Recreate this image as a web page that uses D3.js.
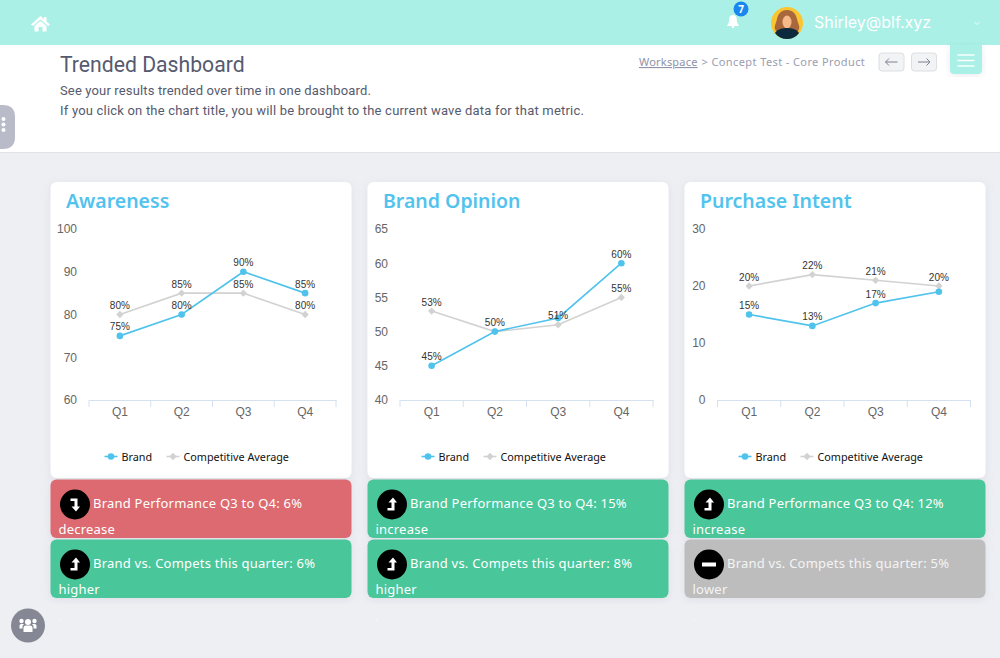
<!DOCTYPE html>
<html>
<head>
<meta charset="utf-8">
<title>Trended Dashboard</title>
<script src="https://cdn.jsdelivr.net/npm/d3@7/dist/d3.min.js"></script>
<style>
html, body { margin: 0; padding: 0; background: #eeeff3; overflow: hidden; }
svg { display: block; }
</style>
</head>
<body>
<div id="chart"></div>
<script>
var quarters = ["Q1", "Q2", "Q3", "Q4"];

var awarenessBrand = [75, 80, 90, 85];
var awarenessComp = [80, 85, 85, 80];
var awarenessBrandLabels = ["75%", "80%", "90%", "85%"];
var awarenessCompLabels = ["80%", "85%", "85%", "80%"];
var awarenessTicks = [60, 70, 80, 90, 100];

var opinionBrand = [45, 50, 52, 60];
var opinionComp = [53, 50, 51, 55];
var opinionBrandLabels = ["45%", null, null, "60%"];
var opinionCompLabels = ["53%", "50%", "51%", "55%"];
var opinionTicks = [40, 45, 50, 55, 60, 65];

var intentBrand = [15, 13, 17, 19];
var intentComp = [20, 22, 21, 20];
var intentBrandLabels = ["15%", "13%", "17%", null];
var intentCompLabels = ["20%", "22%", "21%", "20%"];
var intentTicks = [0, 10, 20, 30];

var seriesNames = ["Brand", "Competitive Average"];
var cardTitles = ["Awareness", "Brand Opinion", "Purchase Intent"];

var performanceTexts = ["Brand Performance Q3 to Q4: 6%", "Brand Performance Q3 to Q4: 15%", "Brand Performance Q3 to Q4: 12%"];
var performanceWords = ["decrease", "increase", "increase"];
var performanceKinds = ["down", "up", "up"];
var competeTexts = ["Brand vs. Compets this quarter: 6%", "Brand vs. Compets this quarter: 8%", "Brand vs. Compets this quarter: 5%"];
var competeWords = ["higher", "higher", "lower"];
var competeKinds = ["up", "up", "flat"];

var width = 1000;
var height = 658;
var blue = "#4fc3ec";
var grey = "#d2d2d2";
var kindColors = { down: "#dd6b70", up: "#4ac69a", flat: "#bdbdbd" };
var uiFont = "'Noto Sans', sans-serif";
var chartFont = "'Liberation Sans', Arial, sans-serif";

var svg = d3.select("#chart").append("svg")
    .attr("width", width)
    .attr("height", height);

var defs = svg.append("defs");
var shadow = defs.append("filter").attr("id", "shadow")
    .attr("x", "-10%").attr("y", "-10%").attr("width", "120%").attr("height", "120%");
shadow.append("feDropShadow")
    .attr("dx", 0).attr("dy", 2).attr("stdDeviation", 4)
    .attr("flood-color", "#8a8fa8").attr("flood-opacity", 0.16);

function text(parent, x, y, str, size, color, font) {
    return parent.append("text")
        .attr("x", x)
        .attr("y", y)
        .attr("fill", color)
        .style("font-family", font || uiFont)
        .style("font-size", size + "px")
        .text(str);
}

drawPage();

var cards = [
    { left: 50.5, cardW: 301, axisL: 89, axisR: 336, domain: [60, 100], ticks: awarenessTicks,
      brand: awarenessBrand, comp: awarenessComp, brandLabels: awarenessBrandLabels, compLabels: awarenessCompLabels },
    { left: 367.5, cardW: 301, axisL: 400, axisR: 653, domain: [40, 65], ticks: opinionTicks,
      brand: opinionBrand, comp: opinionComp, brandLabels: opinionBrandLabels, compLabels: opinionCompLabels },
    { left: 684.5, cardW: 301, axisL: 717.5, axisR: 970.5, domain: [0, 30], ticks: intentTicks,
      brand: intentBrand, comp: intentComp, brandLabels: intentBrandLabels, compLabels: intentCompLabels }
];

cards.forEach(function(card, i) {
    drawCard(card, cardTitles[i]);
    drawAlert(card.left, 479.5, performanceTexts[i], performanceWords[i], performanceKinds[i]);
    drawAlert(card.left, 539.5, competeTexts[i], competeWords[i], competeKinds[i]);
    text(svg, card.left + 8, 620, ".", 9, "#ffffff");
});

function drawCard(card, title) {
    var g = svg.append("g");

    g.append("rect")
        .attr("x", card.left).attr("y", 182)
        .attr("width", card.cardW).attr("height", 296)
        .attr("rx", 6)
        .attr("fill", "#ffffff")
        .attr("filter", "url(#shadow)");

    text(g, card.left + 15.5, 208, title, 19.5, "#52c3ee")
        .style("font-weight", 600);

    var x = d3.scaleBand().domain(quarters).range([card.axisL, card.axisR]);
    var y = d3.scaleLinear().domain(card.domain).range([400, 229]);

    // y axis: labels only
    var yAxis = g.append("g")
        .attr("transform", "translate(" + (card.axisL - 12) + ",0)")
        .call(d3.axisLeft(y).tickValues(card.ticks).tickSize(0).tickPadding(0));
    yAxis.select(".domain").remove();
    yAxis.selectAll("text")
        .attr("fill", "#666666")
        .style("font-family", chartFont)
        .style("font-size", "12px");

    // x axis: labels in the band centres, ticks on the band edges
    var xAxis = g.append("g")
        .attr("transform", "translate(0,400)")
        .call(d3.axisBottom(x).tickSize(0).tickPadding(7));
    xAxis.select(".domain")
        .attr("stroke", "#d5e1ef")
        .attr("stroke-width", 1);
    xAxis.selectAll("text")
        .attr("fill", "#666666")
        .style("font-family", chartFont)
        .style("font-size", "12px");

    var edges = quarters.map(function(q) { return x(q); }).concat([card.axisR]);
    g.selectAll(".edge")
        .data(edges)
        .enter().append("line")
        .attr("class", "edge")
        .attr("x1", function(d) { return d; })
        .attr("x2", function(d) { return d; })
        .attr("y1", 400)
        .attr("y2", 407)
        .attr("stroke", "#d5e1ef")
        .attr("stroke-width", 1);

    var line = d3.line()
        .x(function(d, i) { return x(quarters[i]) + x.bandwidth() / 2; })
        .y(function(d) { return y(d); });

    g.append("path")
        .attr("d", line(card.comp))
        .attr("fill", "none")
        .attr("stroke", grey)
        .attr("stroke-width", 1.6);

    g.selectAll(".comp-point")
        .data(card.comp)
        .enter().append("path")
        .attr("class", "comp-point")
        .attr("d", d3.symbol().type(d3.symbolDiamond2).size(34))
        .attr("transform", function(d, i) {
            return "translate(" + (x(quarters[i]) + x.bandwidth() / 2) + "," + y(d) + ")";
        })
        .attr("fill", grey);

    g.append("path")
        .attr("d", line(card.brand))
        .attr("fill", "none")
        .attr("stroke", blue)
        .attr("stroke-width", 1.6);

    g.selectAll(".brand-point")
        .data(card.brand)
        .enter().append("circle")
        .attr("class", "brand-point")
        .attr("cx", function(d, i) { return x(quarters[i]) + x.bandwidth() / 2; })
        .attr("cy", function(d) { return y(d); })
        .attr("r", 3.3)
        .attr("fill", blue);

    [[card.comp, card.compLabels], [card.brand, card.brandLabels]].forEach(function(pair) {
        pair[0].forEach(function(d, i) {
            if (pair[1][i] === null) return;
            text(g, x(quarters[i]) + x.bandwidth() / 2, y(d) - 5.5, pair[1][i], 10, "#333333", chartFont)
                .attr("text-anchor", "middle");
        });
    });

    // legend
    var lx = card.left + 54;
    var ly = 456.5;
    g.append("line").attr("x1", lx).attr("x2", lx + 13).attr("y1", ly).attr("y2", ly)
        .attr("stroke", blue).attr("stroke-width", 1.6);
    g.append("circle").attr("cx", lx + 6.5).attr("cy", ly).attr("r", 3.3).attr("fill", blue);
    text(g, lx + 17, ly + 4, seriesNames[0], 10.8, "#111111");
    g.append("line").attr("x1", lx + 62).attr("x2", lx + 75).attr("y1", ly).attr("y2", ly)
        .attr("stroke", grey).attr("stroke-width", 1.6);
    g.append("path")
        .attr("d", d3.symbol().type(d3.symbolDiamond2).size(34))
        .attr("transform", "translate(" + (lx + 68.5) + "," + ly + ")")
        .attr("fill", grey);
    text(g, lx + 79, ly + 4, seriesNames[1], 10.8, "#111111");
}

function drawAlert(left, top, line1, line2, kind) {
    var g = svg.append("g");
    var fg = kind === "flat" ? "#f4f4f4" : "#ffffff";

    g.append("rect")
        .attr("x", left).attr("y", top)
        .attr("width", 301).attr("height", 58.5)
        .attr("rx", 6)
        .attr("fill", kindColors[kind])
        .attr("filter", "url(#shadow)");

    text(g, left + 42.5, top + 28.5, line1, 13, fg).style("letter-spacing", "0.22px");
    text(g, left + 8, top + 54, line2, 13, fg).style("letter-spacing", "0.22px");

    var icon = g.append("g")
        .attr("transform", "translate(" + (left + 24.5) + "," + (top + 25) + ")");
    icon.append("circle").attr("r", 15).attr("fill", "#000000");
    if (kind === "up") {
        icon.append("path")
            .attr("d", "M-4.5,3.5 H-0.5 V-2 H-3.5 L1,-7 L5,-2 H2.5 V6 H-4.5 Z")
            .attr("fill", "#ffffff");
    } else if (kind === "down") {
        icon.append("path")
            .attr("d", "M-4.5,-6 H2.5 V2 H5 L1,7 L-3.5,2 H-0.5 V-3.5 H-4.5 Z")
            .attr("fill", "#ffffff");
    } else {
        icon.append("rect")
            .attr("x", -7).attr("y", -2).attr("width", 14).attr("height", 4)
            .attr("fill", "#ffffff");
    }
}

function drawPage() {
    // white title panel
    svg.append("rect").attr("x", 0).attr("y", 45).attr("width", width).attr("height", 107).attr("fill", "#ffffff");
    svg.append("line").attr("x1", 0).attr("x2", width).attr("y1", 152.5).attr("y2", 152.5)
        .attr("stroke", "#e2e3e8");

    // top bar
    svg.append("rect").attr("width", width).attr("height", 45).attr("fill", "#aaf0e6");

    svg.append("path")
        .attr("d", "M40.5,16 L31,24.5 L33,26 L40.5,19.5 L48,26 L50,24.5 L46.5,21.5 V17 H44 V19 Z M34.5,26 L40.5,21 L46.5,26 V31.5 H42.5 V27 H38.5 V31.5 H34.5 Z")
        .attr("fill", "#ffffff");

    // bell and badge
    svg.append("path")
        .attr("d", "M733,15 C736,15 736.8,17.5 736.8,20 C736.8,23 738.3,24.5 739,26 H727 C727.7,24.5 729.2,23 729.2,20 C729.2,17.5 730,15 733,15 Z")
        .attr("fill", "#ffffff");
    svg.append("circle").attr("cx", 733).attr("cy", 27).attr("r", 1.3).attr("fill", "#ffffff");
    svg.append("circle").attr("cx", 741).attr("cy", 9).attr("r", 7.5).attr("fill", "#1a86ee");
    text(svg, 741, 12.5, "7", 10, "#ffffff").attr("text-anchor", "middle").style("font-weight", 700);

    // avatar
    svg.append("circle").attr("cx", 787).attr("cy", 23).attr("r", 16).attr("fill", "#fbc531");
    svg.append("path")
        .attr("d", "M787,10 C793,10 796,14 797,19 C798,24 801,27 798,31 H776 C773,27 776,24 777,19 C778,14 781,10 787,10 Z")
        .attr("fill", "#a9683c");
    svg.append("ellipse").attr("cx", 787).attr("cy", 22).attr("rx", 4.5).attr("ry", 6.5).attr("fill", "#f5b98a");
    svg.append("path")
        .attr("d", "M775,33 C777,29 783,28 787,28 C791,28 797,29 799,33 C796,37 792,39 787,39 C782,39 778,37 775,33 Z")
        .attr("fill", "#0d2a3d");

    text(svg, 814, 28, "Shirley@blf.xyz", 16, "#ffffff", "Inter, sans-serif");
    svg.append("path").attr("d", "M974.5,22 L977,24.5 L979.5,22")
        .attr("fill", "none").attr("stroke", "#ffffff").attr("stroke-width", 0.8);

    // headings
    text(svg, 60, 72, "Trended Dashboard", 21.2, "#565a6e", "Roboto, sans-serif");
    text(svg, 60, 95, "See your results trended over time in one dashboard.", 13, "#565a6e", "Roboto, sans-serif").style("letter-spacing", "0.15px");
    text(svg, 60, 115, "If you click on the chart title, you will be brought to the current wave data for that metric.", 13, "#565a6e", "Roboto, sans-serif").style("letter-spacing", "0.2px");

    // breadcrumb
    text(svg, 639, 66, "Workspace", 11, "#8f92a8").style("text-decoration", "underline").style("letter-spacing", "0.2px");
    text(svg, 701.5, 66, "> Concept Test - Core Product", 11, "#9a9db0").style("letter-spacing", "0.4px");

    [879, 911.5].forEach(function(bx, i) {
        svg.append("rect").attr("x", bx).attr("y", 53).attr("width", 25).attr("height", 18).attr("rx", 3)
            .attr("fill", "#f2f3f5").attr("stroke", "#dddee2");
        var cx = bx + 12.5;
        var d = i === 0
            ? "M" + (cx + 6) + ",62 H" + (cx - 6) + " M" + (cx - 2.5) + ",58.5 L" + (cx - 6) + ",62 L" + (cx - 2.5) + ",65.5"
            : "M" + (cx - 6) + ",62 H" + (cx + 6) + " M" + (cx + 2.5) + ",58.5 L" + (cx + 6) + ",62 L" + (cx + 2.5) + ",65.5";
        svg.append("path").attr("d", d).attr("fill", "none").attr("stroke", "#7d8090").attr("stroke-width", 1);
    });

    // menu button
    svg.append("path")
        .attr("d", "M950,45 H982 V70 Q982,74 978,74 H954 Q950,74 950,70 Z")
        .attr("fill", "#aaf0e6")
        .attr("filter", "url(#shadow)");
    [55, 60.5, 66].forEach(function(ly) {
        svg.append("line").attr("x1", 957.5).attr("x2", 974.5).attr("y1", ly).attr("y2", ly)
            .attr("stroke", "#ffffff").attr("stroke-width", 1.4);
    });

    // left tab
    svg.append("path")
        .attr("d", "M0,105 H3 Q15,105 15,117 V137 Q15,149 3,149 H0 Z")
        .attr("fill", "#b9bcc8");
    [119, 124.5, 130].forEach(function(dy) {
        svg.append("circle").attr("cx", 3.5).attr("cy", dy).attr("r", 2).attr("fill", "#ffffff");
    });

    // people button
    svg.append("circle").attr("cx", 28).attr("cy", 625.5).attr("r", 17).attr("fill", "#858894");
    var people = svg.append("g").attr("transform", "translate(28,625.5)").attr("fill", "#ffffff");
    people.append("circle").attr("cx", 0).attr("cy", -3.5).attr("r", 3);
    people.append("circle").attr("cx", -6.5).attr("cy", -4.5).attr("r", 2.2);
    people.append("circle").attr("cx", 6.5).attr("cy", -4.5).attr("r", 2.2);
    people.append("path").attr("d", "M-4.5,6.5 V2.5 Q-4.5,0 -2,0 H2 Q4.5,0 4.5,2.5 V6.5 Z");
    people.append("path").attr("d", "M-8.5,3 V0 Q-8.5,-1.5 -6.5,-1.5 H-4 L-5.5,0.5 V3 Z");
    people.append("path").attr("d", "M8.5,3 V0 Q8.5,-1.5 6.5,-1.5 H4 L5.5,0.5 V3 Z");
}
</script>
</body>
</html>
